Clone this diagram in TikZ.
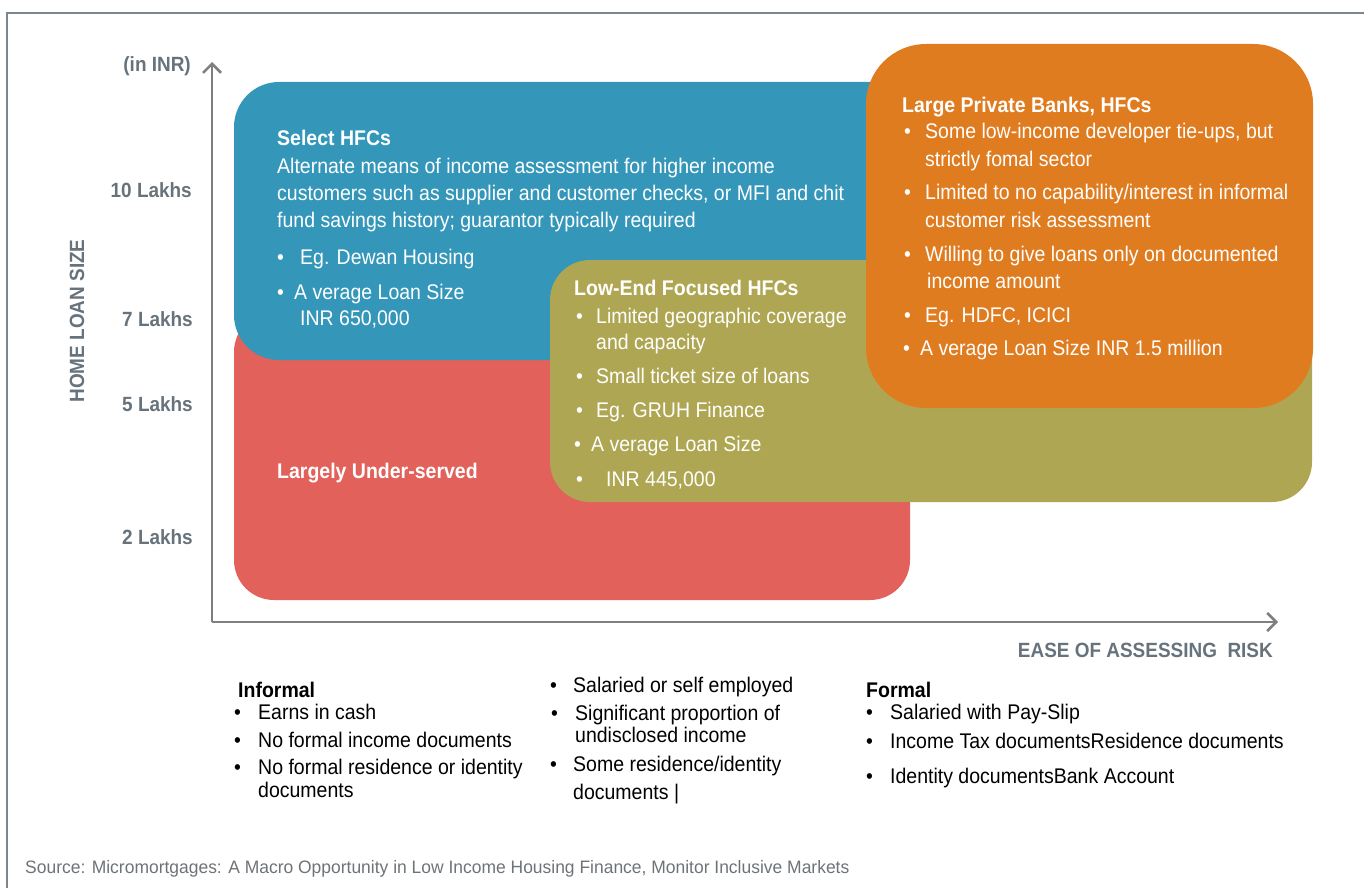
\documentclass[tikz,border=0pt]{standalone}
\usepackage{fontspec}
\setmainfont[FakeStretch=0.92]{Liberation Sans}
\newfontfamily\srcfont[FakeStretch=0.97]{Liberation Sans}
\usetikzlibrary{arrows.meta}
\definecolor{cblue}{HTML}{3497BA}
\definecolor{cred}{HTML}{E2615B}
\definecolor{colive}{HTML}{AFA653}
\definecolor{corange}{HTML}{E07C20}
\definecolor{axisgray}{HTML}{7F7F7F}
\definecolor{labgray}{HTML}{67737C}
\definecolor{framegray}{HTML}{7E868D}
\definecolor{srcgray}{HTML}{6E7378}
\begin{document}
\begin{tikzpicture}[x=1pt,y=-1pt,
  box/.style={inner sep=0, outer sep=0, anchor=north west, draw=none},
  txt/.style={anchor=base west, inner sep=0, font=\fontsize{21.2}{25}\selectfont},
  wtxt/.style={txt, text=white},
  wbold/.style={txt, text=white, font=\fontsize{21.2}{25}\selectfont\bfseries},
  btxt/.style={txt, text=black},
  bbold/.style={txt, text=black, font=\fontsize{21.2}{25}\selectfont\bfseries},
  axlab/.style={anchor=base east, inner sep=0, text=labgray, font=\fontsize{20.6}{24}\selectfont\bfseries},
  axisline/.style={draw=axisgray, line width=2.6pt, -{Straight Barb[length=9pt,width=18pt,line width=2.6pt]}}
]
\useasboundingbox (0,0) rectangle (1364,888);
% frame
\draw[framegray, line width=1.4pt] (7,888) -- (7,13) -- (1364,13);
% panels
\node[box, fill=cred, rounded corners=40pt, minimum width=676pt, minimum height=288pt] (red) at (234,312) {};
\node[box, fill=cblue, rounded corners=45pt, minimum width=700pt, minimum height=278pt] (blue) at (234,82) {};
\node[box, fill=colive, rounded corners=40pt, minimum width=762pt, minimum height=242pt] (olive) at (550,260) {};
\node[box, fill=corange, rounded corners=60pt, minimum width=447pt, minimum height=364pt] (orange) at (866,44) {};
% axes
\coordinate (O) at (212,622);
\coordinate (ytop) at (212,62);
\coordinate (xend) at (1278,622);
\draw[axisline] (O) -- (ytop);
\draw[axisline] (O) -- (xend);
% axis labels
\node[axlab] (inr) at (191,72) {(in INR)};
\node[axlab] (l10) at (192,197) {10 Lakhs};
\node[axlab] (l7) at (193,326) {7 Lakhs};
\node[axlab] (l5) at (193,411) {5 Lakhs};
\node[axlab] (l2) at (193,544) {2 Lakhs};
\node[text=labgray, font=\fontsize{20.6}{24}\selectfont\bfseries, rotate=90, inner sep=0] (yl) at (77,321) {HOME LOAN SIZE};
\node[axlab] (xl) at (1273,657) {EASE OF ASSESSING\ \ RISK};
% blue panel text
\node[wbold] (b0) at (277,145) {Select HFCs};
\node[wtxt] (b1) at (277,173) {Alternate means of income assessment for higher income};
\node[wtxt] (b2) at (277,200) {customers such as supplier and customer checks, or MFI and chit};
\node[wtxt] (b3) at (277,227) {fund savings history; guarantor typically required};
\node[wtxt] (b4b) at (277,264) {•};
\node[wtxt] (b4) at (300,264) {Eg. Dewan Housing};
\node[wtxt] (b5b) at (277,299) {•};
\node[wtxt] (b5) at (294,299) {A verage Loan Size};
\node[wtxt] (b6) at (300,325) {INR 650,000};
% red panel text
\node[wbold] (r0) at (277,478) {Largely Under-served};
% olive panel text
\node[wbold] (o0) at (574,295) {Low-End Focused HFCs};
\node[wtxt] (o1b) at (576,323) {•};
\node[wtxt] (o1) at (596,323) {Limited geographic coverage};
\node[wtxt] (o2) at (596,349) {and capacity};
\node[wtxt] (o3b) at (576,383) {•};
\node[wtxt] (o3) at (596,383) {Small ticket size of loans};
\node[wtxt] (o4b) at (576,417) {•};
\node[wtxt] (o4) at (596,417) {Eg. GRUH Finance};
\node[wtxt] (o5b) at (574,451) {•};
\node[wtxt] (o5) at (591,451) {A verage Loan Size};
\node[wtxt] (o6b) at (576,486) {•};
\node[wtxt] (o6) at (606,486) {INR 445,000};
% orange panel text
\node[wbold] (g0) at (902,113) {Large Private Banks, HFCs};
\node[wtxt] (g1b) at (904,139) {•};
\node[wtxt] (g1) at (925,139) {Some low-income developer tie-ups, but};
\node[wtxt] (g2) at (925,166) {strictly fomal sector};
\node[wtxt] (g3b) at (904,199) {•};
\node[wtxt] (g3) at (925,199) {Limited to no capability/interest in informal};
\node[wtxt] (g4) at (925,227) {customer risk assessment};
\node[wtxt] (g5b) at (904,261) {•};
\node[wtxt] (g5) at (925,261) {Willing to give loans only on documented};
\node[wtxt] (g6) at (927,288) {income amount};
\node[wtxt] (g7b) at (904,322) {•};
\node[wtxt] (g7) at (925,322) {Eg. HDFC, ICICI};
\node[wtxt] (g8b) at (903,355) {•};
\node[wtxt] (g8) at (920,355) {A verage Loan Size INR 1.5 million};
% bottom: informal
\node[bbold] (i0) at (238,697) {Informal};
\node[btxt] (i1b) at (234,719) {•};
\node[btxt] (i1) at (258,719) {Earns in cash};
\node[btxt] (i2b) at (234,747) {•};
\node[btxt] (i2) at (258,747) {No formal income documents};
\node[btxt] (i3b) at (234,774) {•};
\node[btxt] (i3) at (258,774) {No formal residence or identity};
\node[btxt] (i4) at (258,797) {documents};
% bottom: middle
\node[btxt] (m1b) at (550,692) {•};
\node[btxt] (m1) at (573,692) {Salaried or self employed};
\node[btxt] (m2b) at (551,720) {•};
\node[btxt] (m2) at (575,720) {Significant proportion of};
\node[btxt] (m3) at (575,742) {undisclosed income};
\node[btxt] (m4b) at (550,771) {•};
\node[btxt] (m4) at (573,771) {Some residence/identity};
\node[btxt] (m5) at (573,799) {documents |};
% bottom: formal
\node[bbold] (f0) at (866,697) {Formal};
\node[btxt] (f1b) at (866,719) {•};
\node[btxt] (f1) at (890,719) {Salaried with Pay-Slip};
\node[btxt] (f2b) at (866,748) {•};
\node[btxt] (f2) at (890,748) {Income Tax documentsResidence documents};
\node[btxt] (f3b) at (866,783) {•};
\node[btxt] (f3) at (890,783) {Identity documentsBank Account};
% source
\node[anchor=base west, inner sep=0, text=srcgray, font=\srcfont\fontsize{18}{22}\selectfont] (src) at (25,873) {Source: Micromortgages: A Macro Opportunity in Low Income Housing Finance, Monitor Inclusive Markets};
\end{tikzpicture}
\end{document}
